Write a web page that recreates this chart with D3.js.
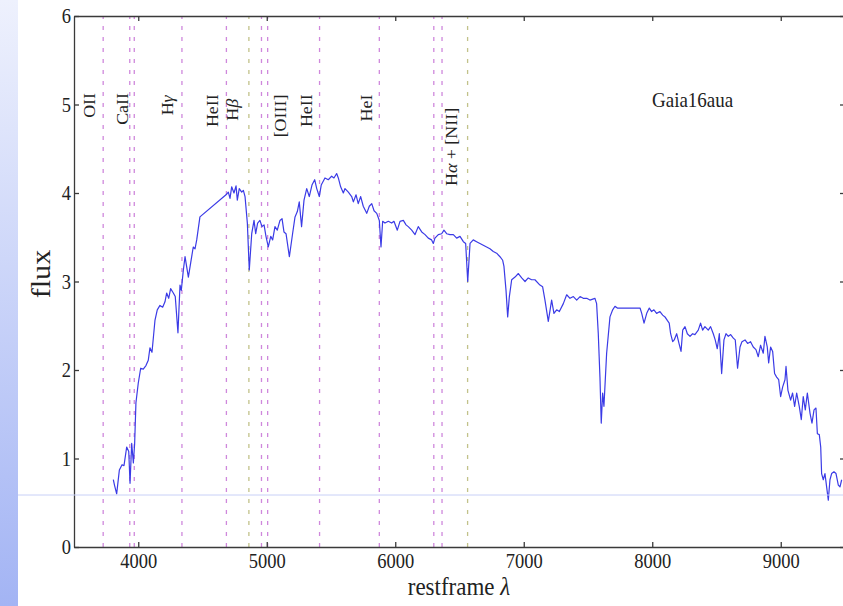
<!DOCTYPE html>
<html>
<head>
<meta charset="utf-8">
<script src="https://cdnjs.cloudflare.com/ajax/libs/d3/7.8.5/d3.min.js"></script>
<style>
body{margin:0;background:#fff;}
svg{display:block;}
.axis path,.axis line{stroke:#3a3a3a;stroke-width:1.3;}
text{font-family:"Liberation Serif",serif;fill:#222;}
</style>
</head>
<body>
<div id="chart"></div>
<script>
// spectrum (restframe wavelength, flux)
const wave = [3806,3815,3832,3853,3874,3889,3910,3926,3936,3949,3962,3972,3982,4000,4019,4039,4060,4078,4091,4107,
  4130,4148,4169,4190,4208,4221,4237,4252,4273,4288,4309,4325,4335,4351,4364,4390,4408,4428,4442,4455,
  4480,4683,4701,4714,4727,4745,4761,4771,4786,4805,4818,4831,4849,4864,4883,4901,4914,4929,4947,4963,
  4979,4994,5012,5031,5046,5064,5082,5103,5119,5134,5150,5176,5201,5220,5238,5253,5271,5290,5311,5331,
  5352,5373,5389,5409,5424,5453,5479,5505,5523,5544,5557,5575,5596,5609,5635,5661,5674,5695,5712,5731,
  5751,5778,5798,5817,5835,5856,5876,5889,5902,5920,5946,5972,5990,6016,6037,6063,6084,6101,6128,6154,
  6179,6206,6232,6257,6283,6296,6309,6335,6361,6379,6400,6426,6452,6478,6504,6530,6548,6564,6582,6607,
  6633,6659,6685,6711,6737,6763,6789,6815,6836,6846,6862,6875,6888,6906,6932,6958,6984,7010,7035,7061,
  7087,7126,7147,7165,7191,7217,7235,7256,7277,7308,7334,7360,7386,7412,7438,7463,7490,7515,7554,7567,
  7580,7593,7603,7614,7624,7645,7671,7692,7710,7728,7905,7918,7936,7957,7977,7995,8013,8034,8060,8081,
  8099,8117,8132,8143,8159,8171,8190,8208,8224,8237,8255,8273,8294,8314,8332,8358,8376,8392,8410,8436,
  8454,8475,8490,8506,8522,8540,8558,8574,8592,8610,8631,8646,8664,8683,8698,8722,8742,8765,8786,8807,
  8825,8843,8864,8877,8895,8906,8921,8937,8952,8968,8984,8999,9015,9033,9041,9056,9077,9092,9108,9124,
  9144,9160,9175,9191,9207,9228,9243,9259,9274,9285,9300,9311,9318,9331,9344,9357,9370,9383,9396,9414,
  9430,9448,9461,9474];
const flux = [0.76,0.70,0.60,0.87,0.93,0.92,1.13,1.08,0.72,1.17,0.95,1.17,1.63,1.85,2.02,2.01,2.05,2.11,2.25,2.20,
  2.56,2.68,2.73,2.71,2.77,2.87,2.81,2.92,2.87,2.83,2.42,2.96,2.90,3.13,3.28,3.05,3.21,3.39,3.37,3.47,
  3.73,3.98,4.01,3.94,4.07,4.00,4.08,3.92,4.05,4.01,4.03,3.96,3.66,3.13,3.54,3.69,3.54,3.66,3.69,3.62,
  3.64,3.51,3.39,3.51,3.47,3.62,3.58,3.69,3.71,3.56,3.54,3.28,3.54,3.73,3.79,3.90,3.62,3.92,4.05,3.96,
  4.09,4.15,4.05,3.96,4.09,4.17,4.15,4.19,4.17,4.22,4.17,4.07,4.00,4.05,4.01,3.96,3.90,3.98,3.88,3.96,
  3.85,3.77,3.85,3.88,3.80,3.77,3.69,3.39,3.68,3.66,3.68,3.66,3.68,3.58,3.68,3.69,3.64,3.62,3.58,3.53,
  3.62,3.56,3.53,3.49,3.47,3.43,3.49,3.53,3.54,3.58,3.54,3.53,3.53,3.49,3.51,3.45,3.43,3.00,3.43,3.47,
  3.45,3.43,3.41,3.39,3.37,3.34,3.32,3.28,3.24,3.17,2.90,2.60,2.83,3.02,3.05,3.09,3.04,3.00,3.04,3.02,
  3.02,2.96,2.94,2.79,2.55,2.79,2.64,2.68,2.66,2.75,2.85,2.81,2.83,2.79,2.83,2.81,2.81,2.79,2.81,2.75,
  2.41,1.92,1.40,1.74,1.59,2.19,2.60,2.68,2.72,2.70,2.70,2.64,2.53,2.64,2.70,2.66,2.68,2.64,2.66,2.62,
  2.60,2.56,2.53,2.41,2.32,2.34,2.41,2.30,2.21,2.45,2.49,2.41,2.38,2.41,2.40,2.45,2.53,2.45,2.49,2.45,
  2.49,2.41,2.34,2.24,2.41,1.96,2.34,2.41,2.38,2.40,2.36,2.34,2.02,2.26,2.32,2.34,2.30,2.32,2.26,2.23,
  2.15,2.28,2.19,2.38,2.26,2.08,2.26,2.21,1.96,1.92,1.89,1.70,1.81,1.89,2.04,1.77,1.66,1.74,1.59,1.74,
  1.59,1.44,1.70,1.55,1.74,1.51,1.40,1.55,1.57,1.28,1.27,1.13,0.83,0.76,0.83,0.68,0.53,0.76,0.83,0.85,
  0.83,0.70,0.68,0.76];

// marked lines
const lineSetA = [3727,3934,3969,4340,4686,4959,5007,5411,5876,6300,6364];
const lineSetB = [4861,6563];

// line labels and where they sit (data units)
const labelNames = ["OII","CaII","Hγ","HeII","Hβ","[OIII]","HeII","HeI","Hα + [NII]"];
const labelWaves = [3663,3920,4270,4621,4776,5150,5352,5819,6480];
const labelFlux  = [4.99,4.95,4.99,4.93,4.94,4.87,4.93,4.96,4.52];

const xTicks = [4000,5000,6000,7000,8000,9000];
const yTicks = [0,1,2,3,4,5,6];

const W = 843, H = 606;
const SY = 1.12; // figure was stretched vertically a bit

const svg = d3.select('#chart').append('svg')
  .attr('width',W)
  .attr('height',H);

// slide strip on the left
const grad = svg.append('defs').append('linearGradient')
  .attr('id','strip').attr('x1',0).attr('y1',0).attr('x2',0).attr('y2',1);
grad.append('stop').attr('offset','0%').attr('stop-color','#eef1fd');
grad.append('stop').attr('offset','100%').attr('stop-color','#a3b4f4');
svg.append('rect').attr('x',0).attr('y',0).attr('width',18).attr('height',H).attr('fill','url(#strip)');

// scales
const x = d3.scaleLinear().domain([3500,9500]).range([74,845]);
const y = d3.scaleLinear().domain([0,6]).range([547,16]);

svg.select('defs').append('clipPath').attr('id','plot')
  .append('rect').attr('x',74).attr('y',16).attr('width',771).attr('height',531);

// dashed line markers
svg.append('g').selectAll('line')
  .data(lineSetA)
  .enter().append('line')
  .attr('x1',d=>x(d)).attr('x2',d=>x(d))
  .attr('y1',y(0)).attr('y2',y(6))
  .attr('stroke','#cf88dc')
  .attr('stroke-width',1.3)
  .attr('stroke-dasharray','4,7');

svg.append('g').selectAll('line')
  .data(lineSetB)
  .enter().append('line')
  .attr('x1',d=>x(d)).attr('x2',d=>x(d))
  .attr('y1',y(0)).attr('y2',y(6))
  .attr('stroke','#c2c28a')
  .attr('stroke-width',1.3)
  .attr('stroke-dasharray','4,7');

// spectrum
const spec = d3.line()
  .x(i=>x(wave[i]))
  .y(i=>y(flux[i]));
svg.append('path')
  .datum(d3.range(wave.length))
  .attr('clip-path','url(#plot)')
  .attr('d',spec)
  .attr('fill','none')
  .attr('stroke','#3b3be6')
  .attr('stroke-width',1.2)
  .attr('stroke-linejoin','round');

// axes, ticks pointing inward
const gB = svg.append('g').attr('class','axis').attr('transform','translate(0,547)')
  .call(d3.axisBottom(x).tickValues(xTicks).tickSizeInner(-5).tickSizeOuter(0).tickFormat(d3.format('d')));
gB.selectAll('text')
  .attr('y',null).attr('dy',null)
  .attr('transform',`translate(0,21) scale(1,${SY})`)
  .style('font-size','18.5px');

svg.append('g').attr('class','axis').attr('transform','translate(0,16)')
  .call(d3.axisTop(x).tickValues(xTicks).tickSizeInner(-5).tickSizeOuter(0).tickFormat(''));

const gL = svg.append('g').attr('class','axis').attr('transform','translate(74,0)')
  .call(d3.axisLeft(y).tickValues(yTicks).tickSizeInner(-5).tickSizeOuter(0).tickFormat(d3.format('d')));
gL.selectAll('text')
  .attr('x',null).attr('dy',null)
  .attr('transform',`translate(-3,6.5) scale(1,${SY})`)
  .style('font-size','18.5px');

svg.append('g').attr('class','axis').attr('transform','translate(845,0)')
  .call(d3.axisRight(y).tickValues(yTicks).tickSizeInner(-5).tickSizeOuter(0).tickFormat(''));

svg.selectAll('.axis text').style('fill','#222').style('font-family','"Liberation Serif",serif');

// helper: greek letters in italic, like mathtext
function addRich(sel, str){
  str.split(/([α-ω])/).filter(s=>s.length).forEach(s=>{
    const t = sel.append('tspan').text(s);
    if(/[α-ω]/.test(s)) t.style('font-style','italic');
  });
}

// line labels, rotated
labelNames.forEach((name,i)=>{
  const t = svg.append('text')
    .attr('text-anchor','middle')
    .attr('transform',`translate(${x(labelWaves[i])},${y(labelFlux[i])}) rotate(-90) scale(${SY},1)`)
    .style('font-size','16px');
  addRich(t,name);
});

// object name
svg.append('text')
  .attr('transform',`translate(652,107) scale(1,${SY})`)
  .style('font-size','19px')
  .text('Gaia16aua');

// axis titles
svg.append('text')
  .attr('text-anchor','middle')
  .attr('transform',`translate(50,274) rotate(-90) scale(${SY},1)`)
  .style('font-size','27px')
  .text('flux');

const xl = svg.append('text')
  .attr('text-anchor','middle')
  .attr('transform',`translate(459,595) scale(1,${SY})`)
  .style('font-size','23px');
addRich(xl,'restframe λ');

// faint guide line from the slide
svg.append('line')
  .attr('x1',18).attr('x2',W)
  .attr('y1',495).attr('y2',495)
  .attr('stroke','#c8d0f7')
  .attr('stroke-width',1);
</script>
</body>
</html>
